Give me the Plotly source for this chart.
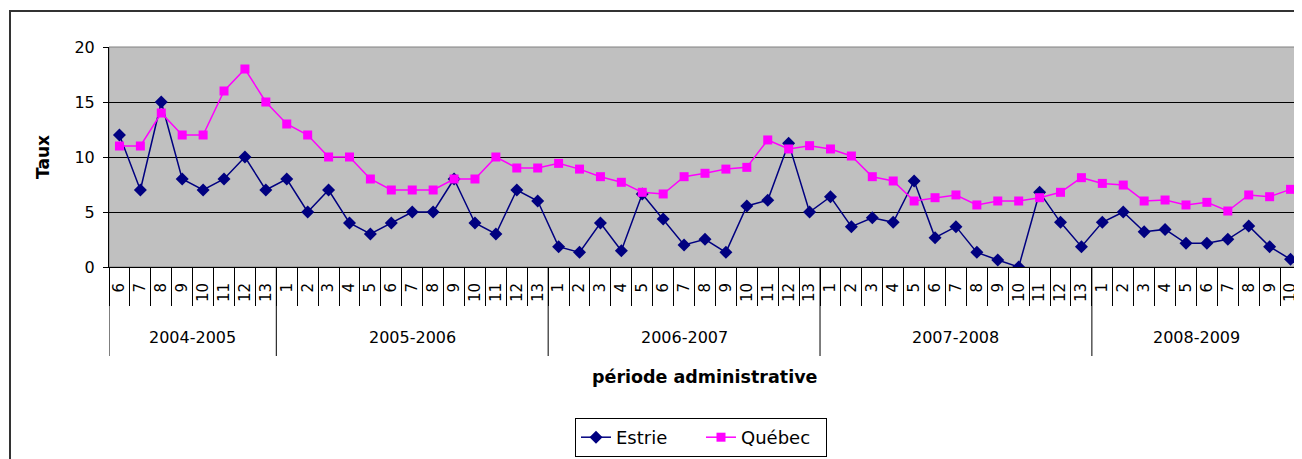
import plotly.graph_objects as go

# ---- data ----
years = ["2004-2005", "2005-2006", "2006-2007", "2007-2008", "2008-2009"]
periods = [
    ["6", "7", "8", "9", "10", "11", "12", "13"],
    ["1", "2", "3", "4", "5", "6", "7", "8", "9", "10", "11", "12", "13"],
    ["1", "2", "3", "4", "5", "6", "7", "8", "9", "10", "11", "12", "13"],
    ["1", "2", "3", "4", "5", "6", "7", "8", "9", "10", "11", "12", "13"],
    ["1", "2", "3", "4", "5", "6", "7", "8", "9", "10"],
]
estrie = [12, 7, 15, 8, 7, 8, 10, 7,
          8, 5, 7, 4, 3, 4, 5, 5, 8, 4, 3, 7, 6,
          1.85, 1.33, 4.0, 1.48, 6.64, 4.36, 2.0, 2.52, 1.33, 5.55, 6.06, 11.24, 5.0,
          6.39, 3.67, 4.48, 4.06, 7.82, 2.67, 3.67, 1.33, 0.64, 0.0, 6.79, 4.06, 1.85,
          4.06, 5.0, 3.21, 3.42, 2.15, 2.15, 2.52, 3.73, 1.85, 0.7]
quebec = [11, 11, 14, 12, 12, 16, 18, 15,
          13, 12, 10, 10, 8, 7, 7, 7, 8, 8, 10, 9, 9,
          9.42, 8.9, 8.21, 7.7, 6.79, 6.64, 8.21, 8.52, 8.9, 9.06, 11.55, 10.73, 11.03,
          10.73, 10.09, 8.21, 7.82, 6.0, 6.3, 6.55, 5.64, 6.0, 6.0, 6.3, 6.79, 8.12,
          7.6, 7.45, 6.0, 6.09, 5.64, 5.88, 5.09, 6.55, 6.39, 7.06]
y_ticks = [0, 5, 10, 15, 20]

# flattened category positions
labels = [p for ps in periods for p in ps]
pos = list(range(len(labels)))
n = len(labels)
group_start = []
s = 0
for ps in periods:
    group_start.append(s)
    s += len(ps)

FONT = "DejaVu Sans"
OFF = 8  # page body margin
W, H = 1302 - OFF, 459 - OFF
PL, PR, PT, PB = 109, 1301, 47, 267   # plot area in page pixels
L, T = PL - OFF, PT - OFF
pw, ph = PR - PL, PB - PT
R, B = W - L - pw, H - T - ph


def px_x(p):
    return (p - PL) / pw


def px_y(p):
    return (PB - p) / ph


fig = go.Figure()
fig.add_trace(go.Scatter(
    x=pos, y=estrie, name="Estrie", mode="lines+markers",
    line=dict(color="#000080", width=1.5),
    marker=dict(symbol="diamond", size=10, color="#000080"),
))
fig.add_trace(go.Scatter(
    x=pos, y=quebec, name="Québec", mode="lines+markers",
    line=dict(color="#FF00FF", width=1.5),
    marker=dict(symbol="square", size=9, color="#FF00FF"),
))

# outer chart frame
fig.add_shape(type="rect", xref="paper", yref="paper",
              x0=px_x(10), x1=px_x(1340), y0=px_y(11), y1=px_y(500),
              line=dict(color="#333333", width=2), fillcolor="rgba(0,0,0,0)",
              layer="below")
# plot area outline (top/right grey)
fig.add_shape(type="rect", xref="paper", yref="paper", x0=0, x1=1, y0=0, y1=1,
              line=dict(color="#808080", width=1), fillcolor="rgba(0,0,0,0)",
              layer="below")

# group dividers and labels
for gi, (yr, ps) in enumerate(zip(years, periods)):
    st = group_start[gi]
    fig.add_shape(type="line", xref="x", yref="paper",
                  x0=st - 0.5, x1=st - 0.5, y0=0, y1=px_y(356),
                  line=dict(color="black", width=1))
    fig.add_annotation(x=st + (len(ps) - 1) / 2, xref="x", y=px_y(337), yref="paper",
                       text=yr, showarrow=False, font=dict(size=16),
                       xanchor="center", yanchor="middle")

fig.add_annotation(x=0.5, xref="paper", y=px_y(377), yref="paper",
                   text="<b>période administrative</b>", showarrow=False,
                   font=dict(size=17.5), xanchor="center", yanchor="middle")

fig.update_layout(
    width=W, height=H,
    margin=dict(l=L, r=R, t=T, b=B, autoexpand=False),
    paper_bgcolor="white",
    plot_bgcolor="#C0C0C0",
    font=dict(family=FONT, size=14, color="black"),
    showlegend=True,
    legend=dict(orientation="h", x=px_x(701), xanchor="center", y=px_y(418), yanchor="top",
                bordercolor="black", borderwidth=1, bgcolor="white",
                font=dict(size=18), tracegroupgap=0,
                entrywidth=80, entrywidthmode="pixels"),
)
fig.update_xaxes(
    range=[-0.5, n - 0.5], automargin=False,
    tickmode="array", tickvals=pos, ticktext=labels,
    tickangle=-90, tickfont=dict(size=15), ticks="", ticklabelstandoff=9,
    minor=dict(tickmode="array", tickvals=[p - 0.5 for p in pos] + [n - 0.5],
               ticks="outside", ticklen=38, tickcolor="black", tickwidth=1, showgrid=False),
    showline=True, linecolor="black", linewidth=1,
    showgrid=False, zeroline=False,
)
fig.update_yaxes(
    range=[0, 20], automargin=False,
    tickmode="array", tickvals=y_ticks,
    showgrid=True, gridcolor="black", gridwidth=1,
    showline=True, linecolor="black", linewidth=1,
    ticks="outside", ticklen=5, tickcolor="black",
    tickfont=dict(size=16), zeroline=False, ticklabelstandoff=5,
    title=dict(text="<b>Taux</b>", font=dict(size=17), standoff=20),
)

fig.write_html("out.html")
